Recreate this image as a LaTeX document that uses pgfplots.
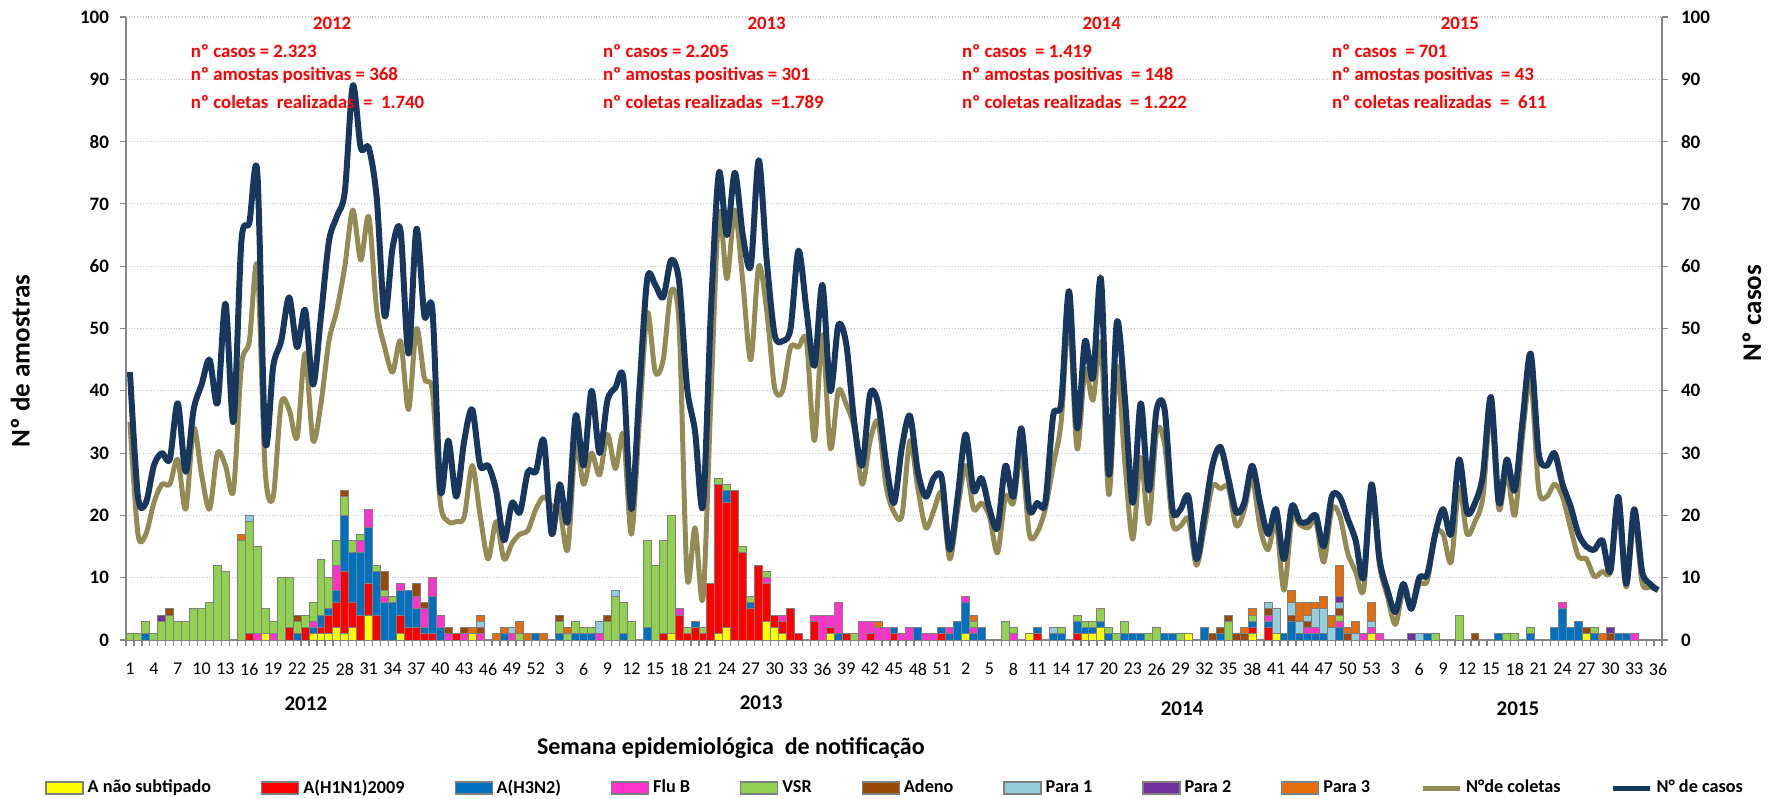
\documentclass[border=0pt]{standalone}
\usepackage{fontspec}
\setmainfont{Carlito}
\usepackage{pgfplots}
\usepackage{pgfplotstable}
\pgfplotsset{compat=1.18}
\definecolor{cyel}{HTML}{FFFF00}
\definecolor{cred}{HTML}{FF0000}
\definecolor{cblu}{HTML}{0070C0}
\definecolor{cpnk}{HTML}{FF33CC}
\definecolor{cgrn}{HTML}{92D050}
\definecolor{cbrn}{HTML}{984807}
\definecolor{clbl}{HTML}{93CDDD}
\definecolor{cpur}{HTML}{7030A0}
\definecolor{corn}{HTML}{E46C0A}
\definecolor{ccol}{HTML}{948A54}
\definecolor{ccas}{HTML}{17375E}
\definecolor{caxis}{HTML}{868686}
\definecolor{cbord}{HTML}{7F7F7F}
\definecolor{cann}{HTML}{FF0000}

\pgfplotstableread{
x yel red blu pnk grn brn lbl pur orn
1 0 0 0 0 1 0 0 0 0
2 0 0 0 0 1 0 0 0 0
3 0 0 1 0 2 0 0 0 0
4 0 0 0 0 1 0 0 0 0
5 0 0 0 0 3 0 0 1 0
6 0 0 0 0 4 1 0 0 0
7 0 0 0 0 3 0 0 0 0
8 0 0 0 0 3 0 0 0 0
9 0 0 0 0 5 0 0 0 0
10 0 0 0 0 5 0 0 0 0
11 0 0 0 0 6 0 0 0 0
12 0 0 0 0 12 0 0 0 0
13 0 0 0 0 11 0 0 0 0
14 0 0 0 0 0 0 0 0 0
15 0 0 0 0 16 0 0 0 1
16 0 1 0 0 18 0 1 0 0
17 0 0 0 1 14 0 0 0 0
18 1 0 0 0 4 0 0 0 0
19 0 0 0 1 2 0 0 0 0
20 0 0 0 0 10 0 0 0 0
21 0 2 0 0 8 0 0 0 0
22 0 0 1 0 2 1 0 0 0
23 0 2 0 0 2 0 0 0 0
24 1 0 1 1 3 0 0 0 0
25 1 1 2 0 9 0 0 0 0
26 1 3 1 0 5 0 0 0 0
27 2 4 2 4 4 0 0 0 0
28 1 10 9 0 3 1 0 0 0
29 2 4 8 0 2 0 0 0 0
30 0 4 10 2 1 0 0 0 0
31 4 5 9 3 0 0 0 0 0
32 0 4 7 0 1 0 0 0 0
33 0 0 6 1 1 3 0 0 0
34 0 0 6 0 1 0 0 0 0
35 1 3 4 1 0 0 0 0 0
36 0 2 6 0 0 0 0 0 0
37 0 2 3 2 0 2 0 0 0
38 0 1 1 3 0 1 0 0 0
39 0 1 6 3 0 0 0 0 0
40 0 0 2 2 0 0 0 0 0
41 0 0 0 1 0 1 0 0 0
42 0 1 0 0 0 0 0 0 0
43 0 0 0 1 0 1 0 0 0
44 1 0 0 0 0 0 0 0 1
45 0 0 0 1 0 1 1 0 1
46 0 0 0 0 0 0 0 0 0
47 0 0 0 0 0 0 0 0 1
48 0 0 1 0 0 0 0 0 1
49 0 0 0 1 0 0 1 0 0
50 0 0 0 0 1 0 0 0 2
51 0 0 0 0 0 0 0 0 1
52 0 0 1 0 0 0 0 0 0
53 0 0 0 0 0 0 0 0 1
54 0 0 0 0 0 0 0 0 0
55 0 0 1 0 2 1 0 0 0
56 0 0 0 0 1 0 0 0 1
57 0 0 1 0 2 0 0 0 0
58 0 0 1 0 1 0 0 0 0
59 0 0 1 0 1 0 0 0 0
60 0 0 0 1 0 0 2 0 0
61 0 0 0 0 3 1 0 0 0
62 0 0 0 0 7 0 1 0 0
63 0 0 1 0 5 0 0 0 0
64 0 0 0 0 3 0 0 0 0
65 0 0 0 0 0 0 0 0 0
66 0 0 2 0 14 0 0 0 0
67 0 0 0 0 12 0 0 0 0
68 0 1 0 0 15 0 0 0 0
69 1 0 0 0 19 0 0 0 0
70 0 4 0 1 0 0 0 0 0
71 0 1 0 0 1 0 0 0 0
72 0 2 1 0 0 0 0 0 0
73 0 1 0 0 1 0 0 0 0
74 0 9 0 0 0 0 0 0 0
75 1 24 0 0 1 0 0 0 0
76 2 20 2 0 1 0 0 0 0
77 0 24 0 0 0 0 0 0 0
78 0 14 0 0 1 0 0 0 0
79 0 5 1 0 1 0 0 0 0
80 0 12 0 0 0 0 0 0 0
81 3 6 0 1 1 0 0 0 0
82 2 2 0 0 0 0 0 0 0
83 1 2 0 1 0 0 0 0 0
84 0 5 0 0 0 0 0 0 0
85 0 1 0 0 0 0 0 0 0
86 0 0 0 0 0 0 0 0 0
87 0 3 0 1 0 0 0 0 0
88 0 0 0 4 0 0 0 0 0
89 1 1 0 2 0 0 0 0 0
90 0 0 1 5 0 0 0 0 0
91 0 1 0 0 0 0 0 0 0
92 0 0 0 0 1 0 0 0 0
93 0 0 0 3 0 0 0 0 0
94 0 1 0 2 0 0 0 0 0
95 0 0 0 2 0 0 0 0 1
96 0 0 0 2 0 0 0 0 0
97 0 1 1 0 0 0 0 0 0
98 0 0 0 1 0 0 0 0 0
99 0 0 0 2 0 0 0 0 0
100 0 0 2 0 0 0 0 0 0
101 0 0 0 1 0 0 0 0 0
102 0 0 0 1 0 0 0 0 0
103 0 1 1 0 0 0 0 0 0
104 0 0 1 1 0 0 0 0 0
105 0 0 3 0 0 0 0 0 0
106 1 0 5 1 0 0 0 0 0
107 0 0 1 1 1 0 0 0 1
108 0 0 2 0 0 0 0 0 0
109 0 0 0 0 0 0 0 0 0
110 0 0 0 0 0 0 0 0 0
111 0 0 0 0 3 0 0 0 0
112 0 0 0 1 1 0 0 0 0
113 0 0 0 0 0 0 0 0 0
114 1 0 0 0 0 0 0 0 0
115 0 1 1 0 0 0 0 0 0
116 0 0 0 0 0 0 0 0 0
117 0 0 1 0 0 0 1 0 0
118 0 0 1 0 1 0 0 0 0
119 0 0 0 0 0 0 0 0 0
120 0 1 2 0 1 0 0 0 0
121 1 0 1 0 1 0 0 0 0
122 1 0 1 0 1 0 0 0 0
123 2 0 1 0 2 0 0 0 0
124 0 0 1 0 1 0 0 0 0
125 0 0 0 0 1 0 0 0 0
126 0 0 1 0 2 0 0 0 0
127 0 0 1 0 0 0 0 0 0
128 0 0 1 0 0 0 0 0 0
129 0 0 0 0 1 0 0 0 0
130 0 0 0 0 2 0 0 0 0
131 0 0 1 0 0 0 0 0 0
132 0 0 1 0 0 0 0 0 0
133 0 0 0 0 1 0 0 0 0
134 1 0 0 0 0 0 0 0 0
135 0 0 0 0 0 0 0 0 0
136 0 0 2 0 0 0 0 0 0
137 0 0 0 0 0 1 0 0 0
138 0 0 1 0 0 1 0 0 0
139 0 0 0 0 3 1 0 0 0
140 0 0 0 0 0 1 0 0 0
141 0 0 0 0 0 1 0 0 1
142 1 1 1 0 1 0 0 0 1
143 0 0 0 0 0 0 0 0 0
144 0 2 1 1 0 1 1 0 0
145 1 0 0 0 0 0 4 0 0
146 0 0 1 0 0 0 0 0 0
147 0 0 3 0 0 1 2 0 2
148 0 0 1 0 0 0 2 0 3
149 0 0 1 1 0 1 1 0 2
150 0 0 1 1 0 0 3 0 1
151 0 0 1 0 0 0 4 0 2
152 0 0 0 0 0 0 2 0 2
153 0 0 2 1 1 1 1 1 5
154 0 0 0 0 0 1 0 0 1
155 0 0 0 0 0 0 1 0 2
156 0 0 0 1 0 0 0 0 0
157 1 0 0 1 0 0 1 0 3
158 0 0 0 1 0 0 0 0 0
159 0 0 0 0 0 0 0 0 0
160 0 0 0 0 0 0 0 0 0
161 0 0 0 0 0 0 0 0 0
162 0 0 0 0 0 0 0 1 0
163 0 0 0 0 0 0 1 0 0
164 0 0 1 0 0 0 0 0 0
165 0 0 0 0 1 0 0 0 0
166 0 0 0 0 0 0 0 0 0
167 0 0 0 0 0 0 0 0 0
168 0 0 0 0 4 0 0 0 0
169 0 0 0 0 0 0 0 0 0
170 0 0 0 0 0 1 0 0 0
171 0 0 0 0 0 0 0 0 0
172 0 0 0 0 0 0 0 0 0
173 0 0 1 0 0 0 0 0 0
174 0 0 0 0 1 0 0 0 0
175 0 0 0 0 1 0 0 0 0
176 0 0 0 0 0 0 0 0 0
177 0 0 1 0 1 0 0 0 0
178 0 0 0 0 0 0 0 0 0
179 0 0 0 0 0 0 0 0 0
180 0 0 2 0 0 0 0 0 0
181 0 0 5 1 0 0 0 0 0
182 0 0 2 0 0 0 0 0 0
183 0 0 3 0 0 0 0 0 0
184 1 0 0 0 0 1 0 0 0
185 0 0 1 0 1 0 0 0 0
186 0 0 0 0 0 0 0 0 1
187 0 0 0 0 0 1 0 1 0
188 0 0 1 0 0 0 0 0 0
189 0 0 1 0 0 0 0 0 0
190 0 0 0 1 0 0 0 0 0
191 0 0 0 0 0 0 0 0 0
192 0 0 0 0 0 0 0 0 0
193 0 0 0 0 0 0 0 0 0
}\bars

\pgfplotstableread{
x col cas
1 35 43
2 17 23
3 17 22
4 22 28
5 25 30
6 25 29
7 29 38
8 21 27
9 34 37
10 26.5 41
11 21 45
12 30 38
13 28 54
14 24 35
15 44 64
16 48 67
17 60 75
18 27 32
19 23 44
20 38 48
21 37 55
22 32.5 47
23 46 53
24 32 41
25 38 52
26 48 64
27 53 68
28 60 72
29 69 89
30 61 79
31 68 79
32 53 71
33 47 52
34 43 63
35 48 65.6
36 37 46
37 50 66
38 42 52
39 40 53
40 22 24
41 19 32
42 19 23
43 19.8 32
44 28 37
45 20 28
46 13 28
47 19 24
48 13 16
49 15.5 22
50 17 20.5
51 17.6 27
52 21 27
53 23 32
54 21.5 17
55 21 25
56 14.5 19
57 31.4 36
58 25 28
59 30 40
60 26.5 30
61 33 38.5
62 27.5 40.5
63 33 42
64 17 21
65 35 40
66 52.5 58
67 43 57
68 45 55
69 56 61
70 50.5 57.5
71 10.2 40.5
72 18 33.5
73 6.7 21.5
74 39 53
75 68.5 75
76 58 65
77 69 75
78 57.5 65
79 45 60
80 60 77
81 53 61
82 40.5 49
83 40 48
84 47 50
85 47 62.5
86 48 53
87 32 44
88 49 57
89 30.7 40
90 40 50.5
91 37.8 47.5
92 34 35
93 25 28
94 32 39.5
95 35 38
96 24.7 28.5
97 20.5 22
98 20 31
99 32 36
100 24.3 27
101 18 23
102 20.8 26
103 23.5 26
104 13 14.5
105 21 23
106 28 33
107 21 24
108 22 26
109 19.8 21
110 14 18
111 23 28
112 22 23
113 30 34
114 17 21
115 17.3 22
116 21 22
117 28 36
118 35 38
119 52 56
120 30.7 34
121 43.4 48
122 38.5 42
123 47.6 58
124 23.3 26.5
125 44 51
126 28.6 39
127 16.2 22
128 29.3 38
129 18.7 24
130 33.5 37
131 31.4 37
132 18.7 21
133 18.3 21
134 19.4 23
135 12 13
136 18 20
137 24.7 28
138 24.3 31
139 24.5 26
140 18.3 20.5
141 20.8 22
142 26 28
143 18 22
144 14.5 17
145 19 21
146 8 13
147 19.5 21.5
148 18.5 19
149 18 19
150 19 20
151 12.5 15
152 21 23
153 20 23
154 14 19.5
155 11 16
156 8 10
157 24 25
158 12 13
159 7 8
160 2.5 4.5
161 8 9
162 5 5
163 9 10
164 9.5 10.5
165 17 17
166 17 21
167 12.5 17
168 24.5 29
169 17 20.5
170 19 22
171 23 26.5
172 37 39
173 21 22
174 27 29
175 20 24
176 33 35.5
177 42 46
178 24.3 30
179 23 28
180 25 30
181 23 25
182 18 21.5
183 13.4 17
184 13 15
185 10.2 14.5
186 11 16
187 11 11
188 21 23
189 8.5 9
190 19.8 21
191 9.2 11
192 8.5 9
193 8 8
}\lines

\pgfplotsset{
  barleg/.style={legend image code/.code={\draw[##1,line width=0.6pt] (0pt,-3pt) rectangle (18.5pt,3pt);}},
  common/.style={
    scale only axis, width=768pt, height=311.5pt,
    xmin=0.5, xmax=193.5, ymin=0, ymax=100,
    ytick={0,10,...,100},
    tick align=outside,
    major tick length=3pt,
    axis line style={caxis, line width=0.75pt},
    tick style={caxis, line width=0.6pt},
    /pgf/number format/assume math mode=true,
    yticklabel style={font=\bfseries\fontsize{9.5}{11}\selectfont},
  },
}

\begin{document}
\begin{tikzpicture}
\begin{axis}[common,
  axis x line*=bottom, axis y line*=left,
  ybar stacked, bar width=1,
  ymajorgrids, grid style={gray!40, densely dotted, line width=0.6pt},
  xtick={0.5,1.5,...,193.5}, xticklabels={},
  extra x ticks={1,4,...,193},
  extra x tick labels={1,4,7,10,13,16,19,22,25,28,31,34,37,40,43,46,49,52,3,6,9,12,15,18,21,24,27,30,33,36,39,42,45,48,51,2,5,8,11,14,17,20,23,26,29,32,35,38,41,44,47,50,53,3,6,9,12,15,18,21,24,27,30,33,36},
  extra x tick style={major tick length=0pt, tick label style={font=\fontsize{9}{11}\selectfont, yshift=-8pt}},
  yticklabel style={xshift=-2pt},
  legend columns=11,
  legend style={at={(-0.0527,-0.2376)}, anchor=west, draw=none, fill=none, inner sep=0pt,
    font=\bfseries\fontsize{9.1}{11}\selectfont,
    /tikz/every even column/.append style={column sep=23pt}},
]
\coordinate (O) at (rel axis cs:0,0);
\addplot[fill=cyel, draw=cbord, line width=0.5pt, barleg] table[x=x,y=yel]{\bars};
\addlegendentry{A não subtipado}
\addplot[fill=cred, draw=cbord, line width=0.5pt, barleg] table[x=x,y=red]{\bars};
\addlegendentry{A(H1N1)2009}
\addplot[fill=cblu, draw=cbord, line width=0.5pt, barleg] table[x=x,y=blu]{\bars};
\addlegendentry{A(H3N2)}
\addplot[fill=cpnk, draw=cbord, line width=0.5pt, barleg] table[x=x,y=pnk]{\bars};
\addlegendentry{Flu B}
\addplot[fill=cgrn, draw=cbord, line width=0.5pt, barleg] table[x=x,y=grn]{\bars};
\addlegendentry{VSR}
\addplot[fill=cbrn, draw=cbord, line width=0.5pt, barleg] table[x=x,y=brn]{\bars};
\addlegendentry{Adeno}
\addplot[fill=clbl, draw=cbord, line width=0.5pt, barleg] table[x=x,y=lbl]{\bars};
\addlegendentry{Para 1}
\addplot[fill=cpur, draw=cbord, line width=0.5pt, barleg] table[x=x,y=pur]{\bars};
\addlegendentry{Para 2}
\addplot[fill=corn, draw=cbord, line width=0.5pt, barleg] table[x=x,y=orn]{\bars};
\addlegendentry{Para 3}
\addlegendimage{legend image code/.code={\draw[ccol, line width=2.5pt] (0pt,0pt) -- (18.5pt,0pt);}}
\addlegendentry{N°de coletas}
\addlegendimage{legend image code/.code={\draw[ccas, line width=2.5pt] (0pt,0pt) -- (18.5pt,0pt);}}
\addlegendentry{N° de casos}
\end{axis}

\begin{axis}[common,
  axis y line*=right, axis x line=none,
  yticklabel style={xshift=3pt},
  clip=false,
]
\addplot[ccol, line width=2.5pt, smooth, line join=round] table[x=x,y=col]{\lines};
\addplot[ccas, line width=3pt, smooth, line join=round] table[x=x,y=cas]{\lines};
% annotations
\begin{scope}[every node/.style={text=cann, font=\bfseries\fontsize{9.4}{11}\selectfont, inner sep=0pt}]
\node at (axis cs:26.4,98.9) {2012};
\node[anchor=west] at (axis cs:8.6,94.6) {nº casos = 2.323};
\node[anchor=west] at (axis cs:8.6,90.6) {nº amostas positivas = 368};
\node[anchor=west] at (axis cs:8.6,86.4) {nº coletas\ \ realizadas\ \ = \ 1.740};
\node at (axis cs:81.0,98.9) {2013};
\node[anchor=west] at (axis cs:60.4,94.6) {nº casos = 2.205};
\node[anchor=west] at (axis cs:60.4,90.6) {nº amostas positivas = 301};
\node[anchor=west] at (axis cs:60.4,86.4) {nº coletas realizadas\ \ =1.789};
\node at (axis cs:123.1,98.9) {2014};
\node[anchor=west] at (axis cs:105.5,94.6) {nº casos\ \ = 1.419};
\node[anchor=west] at (axis cs:105.5,90.6) {nº amostas positivas\ \ = 148};
\node[anchor=west] at (axis cs:105.5,86.4) {nº coletas realizadas\ \ = 1.222};
\node at (axis cs:168.1,98.9) {2015};
\node[anchor=west] at (axis cs:152,94.6) {nº casos\ \ = 701};
\node[anchor=west] at (axis cs:152,90.6) {nº amostas positivas\ \ = 43};
\node[anchor=west] at (axis cs:152,86.4) {nº coletas realizadas\ \ = \ 611};
\end{scope}
\begin{scope}[every node/.style={font=\bfseries\fontsize{10.5}{12}\selectfont, inner sep=0pt}]
\node at (axis cs:23.1,-10.3) {2012};
\node at (axis cs:80.3,-10.1) {2013};
\node at (axis cs:133.2,-11.0) {2014};
\node at (axis cs:175.4,-11.0) {2015};
\end{scope}
\node[font=\bfseries\fontsize{12}{14}\selectfont, inner sep=0pt] at (axis cs:76.5,-17.3) {Semana epidemiológica\ \ de notificação};
\node[font=\bfseries\fontsize{13.5}{16}\selectfont, inner sep=0pt, rotate=90] at (axis cs:-12.8,44.8) {Nº de amostras};
\node[font=\bfseries\fontsize{13.5}{16}\selectfont, inner sep=0pt, rotate=90] at (axis cs:204.8,52.5) {Nº casos};
\end{axis}
\pgfresetboundingbox
\path[use as bounding box] ([shift={(-63pt,-79pt)}]O) rectangle ([shift={(825.5pt,320pt)}]O);
\end{tikzpicture}
\end{document}
